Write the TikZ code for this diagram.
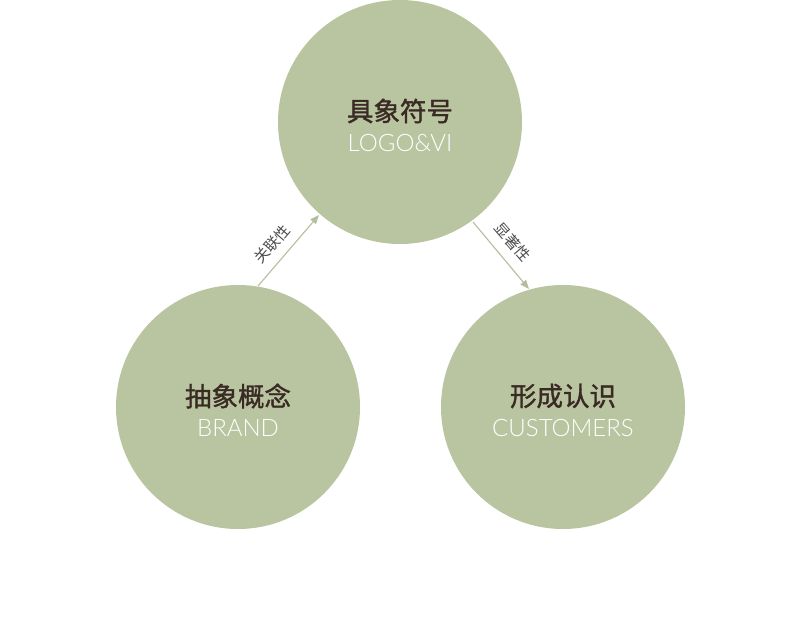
\documentclass[tikz,border=0pt]{standalone}
\usepackage{fontspec}
\newfontfamily\cjk{Noto Sans CJK SC}
\newfontfamily\cjkb[FakeBold=1.3]{Noto Sans CJK SC}
\newfontfamily\en{Lato Light}
\usetikzlibrary{arrows.meta}
\definecolor{sage}{HTML}{B9C4A0}
\definecolor{ink}{HTML}{3A2A24}
\definecolor{lbl}{HTML}{4A4A4A}
\definecolor{arr}{HTML}{B4BE9C}
\begin{document}
\begin{tikzpicture}[x=1pt,y=-1pt,
  bubble/.style={circle,fill=sage,minimum size=244pt,inner sep=0pt},
  title/.style={font=\cjkb\fontsize{26.5}{26.5}\selectfont,text=ink},
  sub/.style={font=\en\fontsize{24}{24}\selectfont,text=white},
  conn/.style={draw=arr,line width=1.1pt,-{Triangle[length=9pt,width=7pt]}},
  tag/.style={font=\cjk\fontsize{15}{15}\selectfont,text=lbl}]
\useasboundingbox (0,0) rectangle (800,628);
\node[bubble] (top) at (400,122) {};
\node[bubble] (left) at (238,407) {};
\node[bubble] (right) at (563,407) {};
\node[title] (t1) at (400,111) {具象符号};
\node[sub] (s1) at (400,143) {LOGO\&VI};
\node[title] (t2) at (238,396) {抽象概念};
\node[sub] (s2) at (238,428) {BRAND};
\node[title] (t3) at (563,396) {形成认识};
\node[sub] (s3) at (563,428) {CUSTOMERS};
\coordinate (a1) at (258,286);
\coordinate (b1) at (319,215);
\coordinate (a2) at (473,222);
\coordinate (b2) at (529,289);
\draw[conn] (a1) -- (b1);
\draw[conn] (a2) -- (b2);
\node[tag,rotate=49] (l1) at (272,244) {关联性};
\node[tag,rotate=-49] (l2) at (513,242) {显著性};
\end{tikzpicture}
\end{document}
